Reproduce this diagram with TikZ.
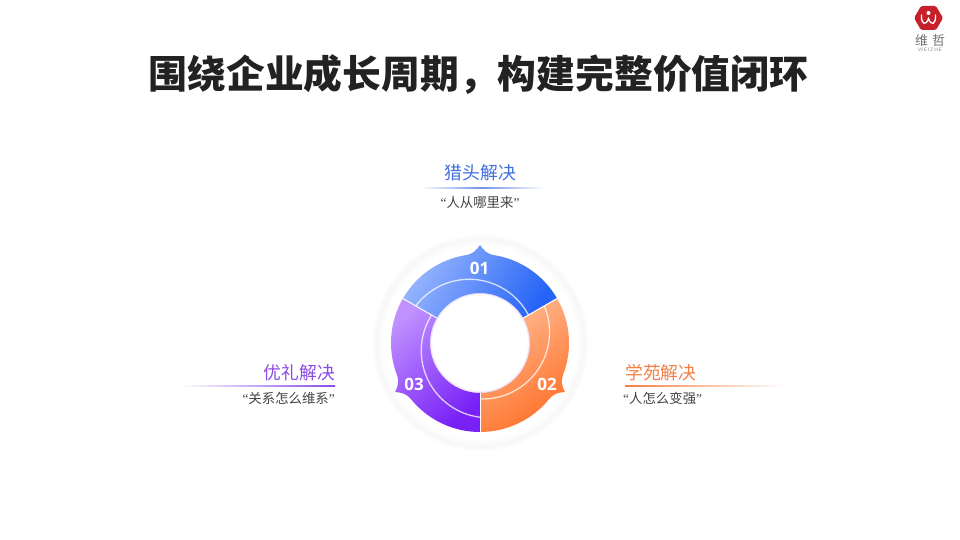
\documentclass[tikz,border=0pt]{standalone}
\usepackage{fontspec}
\setmainfont{Liberation Serif}
\newfontfamily\cjk{Noto Sans CJK SC}
\newfontfamily\numf{Open Sans}
\newfontfamily\qf{Liberation Serif}
\usetikzlibrary{calc}
\definecolor{ttl}{HTML}{222222}
\definecolor{subc}{HTML}{444444}
\definecolor{bl}{HTML}{3F6EE0}
\definecolor{orc}{HTML}{F47F45}
\definecolor{puc}{HTML}{8A4BE6}
\definecolor{logor}{HTML}{C8202A}
\definecolor{blA}{HTML}{98B6FD}
\definecolor{blB}{HTML}{2664F6}
\definecolor{orA}{HTML}{FFBA92}
\definecolor{orB}{HTML}{FF7028}
\definecolor{puA}{HTML}{C092FF}
\definecolor{puB}{HTML}{7820F6}
\tikzset{
  title text/.style={font=\cjk\bfseries\fontsize{38.8}{40}\selectfont,text=ttl,inner sep=0pt},
  head text/.style={font=\cjk\fontsize{17.8}{20}\selectfont,inner sep=0pt},
  sub text/.style={font=\cjk\fontsize{13.4}{15}\selectfont,text=subc,inner sep=0pt},
  num text/.style={font=\numf\bfseries\fontsize{17}{19}\selectfont,text=white,inner sep=0pt},
  ring line/.style={draw=white,line width=1.3pt,opacity=.75},
}
\newcommand{\segpath}[1]{%
  (#1+30:89) arc[start angle=#1+30,end angle=#1+81.5,radius=89]
  .. controls (#1+85:89.5) and (#1+87.5:92) .. (#1+90:98)
  .. controls (#1+92.5:92) and (#1+95:89.5) .. (#1+98.5:89)
  arc[start angle=#1+98.5,end angle=#1+150,radius=89]
  -- (#1+150:50) arc[start angle=#1+150,end angle=#1+30,radius=50] -- cycle}
\newcommand{\q}[1]{{\qf #1}}
\begin{document}
\begin{tikzpicture}[x=1pt,y=1pt]
\useasboundingbox (0,0) rectangle (960,-540);
\fill[white] (0,0) rectangle (960,-540);

% title
\node[title text] (title) at (478.5,-75) {围绕企业成长周期，构建完整价值闭环};

% logo
\fill[logor,rounded corners=1.5pt] (914,-18) -- (921,-6) -- (936,-6) -- (943,-18) -- (936,-30) -- (921,-30) -- cycle;
\fill[white] (928.5,-13) circle (2);
\draw[white,line width=1.3pt,line cap=round] (921.5,-15) .. controls (921,-25) and (926,-26) .. (928.5,-18.5) .. controls (931,-26) and (936,-25) .. (935.5,-15);
\node[font=\cjk\fontsize{13}{14}\selectfont,text=black!55,inner sep=0pt] (logoa) at (921.5,-41) {维};
\node[font=\cjk\fontsize{13}{14}\selectfont,text=black!55,inner sep=0pt] (logob) at (938.5,-41) {哲};
\node[font=\sffamily\fontsize{5}{6}\selectfont,text=black!45,inner sep=0pt] (logoc) at (930,-49.5) {W\,E\,I\,Z\,H\,E};

% halo
\begin{scope}[shift={(480.5,-343)}]
\foreach \r/\k in {108/0.8,107/1.4,106/2,105/2.4,104/2.6,103/2.4,102/2,101/1.5,100/1,99/.6,98/.3,97/0}
  \fill[black!\k] (0,0) circle (\r);
\end{scope}

% ring
\begin{scope}[shift={(480,-343)}]
  % soft glows
  \foreach \w/\o in {4/.05,2.5/.07,1.2/.08}
    \draw[puc,line width=\w pt,opacity=\o] (0,0) circle (50);
  % 01
  \shade[left color=blA,right color=blB,shading angle=60] \segpath{0};
  \begin{scope}
    \clip \segpath{0};
    \draw[ring line] (197:11.3) circle (67);
  \end{scope}
  % 02
  \shade[left color=orA,right color=orB,shading angle=35] \segpath{-120};
  \begin{scope}
    \clip \segpath{-120};
    \draw[ring line] (77:11.3) circle (67);
  \end{scope}
  % 03
  \shade[left color=puA,right color=puB,shading angle=40] \segpath{120};
  \begin{scope}
    \clip \segpath{120};
    \draw[ring line] (-43:11.3) circle (67);
  \end{scope}
  % separators
  \foreach \a in {30,150,270}
    \draw[white,line width=1pt] (\a:49.5) -- (\a:90);
\end{scope}

\node[num text] (n1) at (479.5,-268) {01};
\node[num text] (n2) at (547,-384) {02};
\node[num text] (n3) at (414,-384) {03};

% labels
\node[head text,text=bl] (h1) at (480.5,-173) {猎头解决};
\shade[left color=white,right color=white,middle color=bl!75] (420,-187.6) rectangle (544,-188.6);
\node[sub text] (s1) at (480,-202) {\q{“}人从哪里来\q{”}};

\node[head text,text=orc,anchor=west] (h2) at (625,-372.5) {学苑解决};
\shade[left color=orc,right color=white] (625,-385.3) rectangle (785,-386.5);
\node[sub text,anchor=west] (s2) at (623,-398) {\q{“}人怎么变强\q{”}};

\node[head text,text=puc,anchor=east] (h3) at (335,-372.5) {优礼解决};
\shade[left color=white,right color=puc] (180,-385.3) rectangle (335,-386.5);
\node[sub text,anchor=east] (s3) at (335,-398) {\q{“}关系怎么维系\q{”}};
\end{tikzpicture}
\end{document}
